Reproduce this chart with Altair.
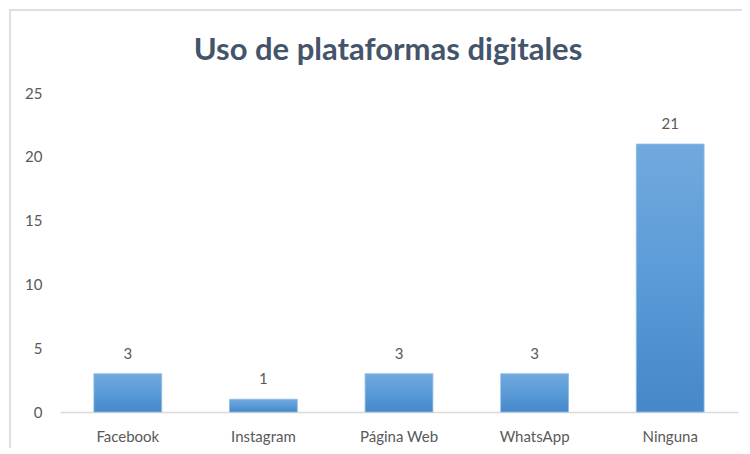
import altair as alt
import pandas as pd

categories = ["Facebook", "Instagram", "Página Web", "WhatsApp", "Ninguna"]
values = [3, 1, 3, 3, 21]
y_ticks = [0, 5, 10, 15, 20, 25]

df = pd.DataFrame({"plataforma": categories, "valor": values})

FONT = "Lato"
LABEL = "#595959"

gradient = alt.Gradient(
    gradient="linear",
    stops=[
        alt.GradientStop(color="#72A9DD", offset=0),
        alt.GradientStop(color="#5A9BD8", offset=0.5),
        alt.GradientStop(color="#4587C8", offset=1),
    ],
    x1=0, x2=0, y1=0, y2=1,
)

x_enc = alt.X(
    "plataforma:N",
    sort=categories,
    title=None,
    scale=alt.Scale(paddingInner=0.5, paddingOuter=0.25),
    axis=alt.Axis(
        labelAngle=0, labelFont=FONT, labelFontSize=15, labelColor=LABEL,
        labelPadding=17, ticks=False, domainColor="#D9D9D9", domainWidth=1.5,
        grid=False,
    ),
)
y_enc = alt.Y(
    "valor:Q",
    title=None,
    scale=alt.Scale(domain=[0, 25], nice=False),
    axis=alt.Axis(
        values=y_ticks, labelFont=FONT, labelFontSize=15, labelColor=LABEL,
        labelPadding=18, ticks=False, domain=False, grid=False,
    ),
)

frame = alt.Chart(df).mark_rect(
    fill=None, stroke="#DCE0E6", strokeWidth=1.5
).encode(
    x=alt.value(-50), x2=alt.value(760), y=alt.value(-83), y2=alt.value(400)
)

bars = alt.Chart(df).mark_bar(
    color=gradient, stroke="#8DBBE6", strokeWidth=1, strokeOpacity=0.8
).encode(x=x_enc, y=y_enc)

labels = alt.Chart(df).mark_text(
    dy=-12, baseline="bottom", font=FONT, fontSize=15, color=LABEL
).encode(
    x=x_enc,
    y=y_enc,
    text="valor:Q",
)

chart = alt.layer(frame, bars, labels).properties(
    width=678,
    height=319,
    padding={"left": 52, "top": 85, "right": 4, "bottom": 36},
    autosize=alt.AutoSizeParams(type="none"),
    title=alt.TitleParams(
        "Uso de plataformas digitales",
        font=FONT, fontSize=31, fontWeight="bold", color="#44546A",
        anchor="middle", dx=-11, offset=-82, baseline="alphabetic",
    ),
).configure_view(stroke=None)

chart.save("out.html", embed_options={"renderer": "svg", "actions": False})
